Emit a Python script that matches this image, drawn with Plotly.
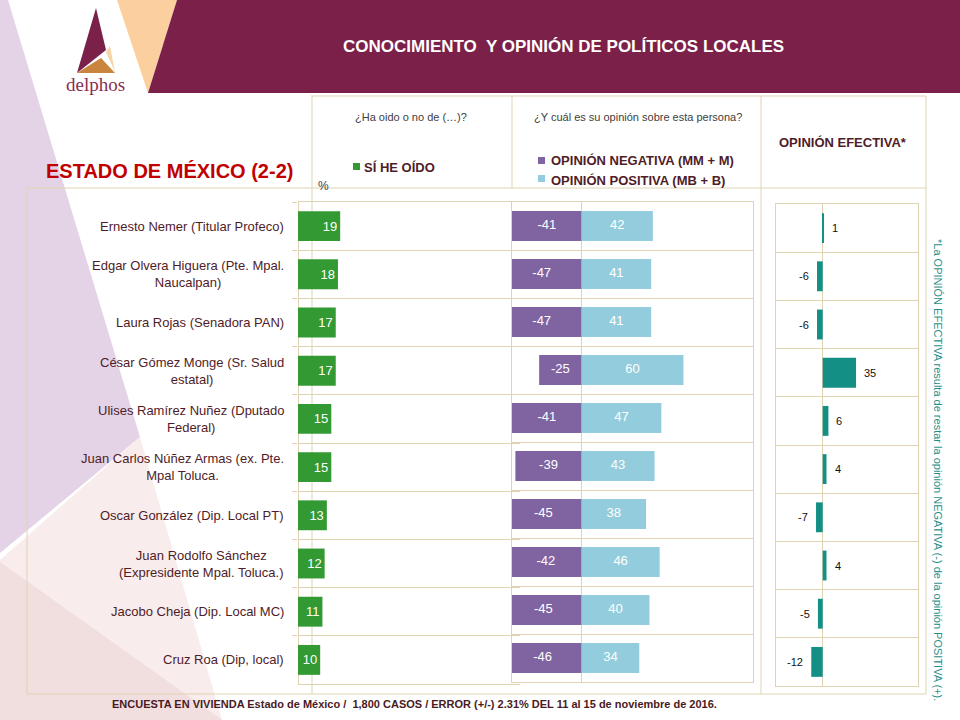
import plotly.graph_objects as go

# ---------------- data ----------------
categories = [
    "Ernesto Nemer (Titular Profeco)",
    "Edgar Olvera Higuera (Pte. Mpal.<br>Naucalpan)",
    "Laura Rojas (Senadora PAN)",
    "César Gómez Monge (Sr. Salud<br>estatal)",
    "Ulises Ramírez Nuñez (Dputado<br>Federal)",
    "Juan Carlos Núñez Armas (ex. Pte.<br>Mpal Toluca.",
    "Oscar González (Dip. Local PT)",
    "Juan Rodolfo Sánchez<br>(Expresidente Mpal. Toluca.)",
    "Jacobo Cheja (Dip. Local MC)",
    "Cruz Roa (Dip, local)",
]
si_he_oido = [19, 18, 17, 17, 15, 15, 13, 12, 11, 10]
opinion_negativa = [-41, -47, -47, -25, -41, -39, -45, -42, -45, -46]
opinion_positiva = [42, 41, 41, 60, 47, 43, 38, 46, 40, 34]
opinion_efectiva = [1, -6, -6, 35, 6, 4, -7, 4, -5, -12]

# ---------------- style ----------------
W, H = 960, 720
NARROW = "Liberation Sans Narrow, Arial Narrow, Liberation Sans, sans-serif"
MAROON = "#7b2048"
PEACH = "#fcd09e"
LAVENDER = "#e4d3e7"
TAN = "#e0d3b2"
TXT = "#4f1c28"
GREEN = "#339933"
PURPLE = "#8064a2"
LBLUE = "#93cddd"
TEAL = "#138f86"


def px(x):
    return x / W


def py(y):
    return 1 - y / H


fig = go.Figure()

# green bars
fig.add_trace(go.Bar(
    x=si_he_oido, y=categories, orientation="h", xaxis="x", yaxis="y",
    marker=dict(color=GREEN, line=dict(width=0)), width=0.62,
    text=[str(v) for v in si_he_oido], textposition="inside",
    insidetextanchor="end", textangle=0,
    textfont=dict(family=NARROW, size=13, color="white"),
    showlegend=False, hoverinfo="skip"))

# opinion bars
fig.add_trace(go.Bar(
    x=opinion_negativa, y=categories, orientation="h", xaxis="x2", yaxis="y2",
    marker=dict(color=PURPLE, line=dict(width=0)), width=0.62,
    showlegend=False, hoverinfo="skip"))
fig.add_trace(go.Bar(
    x=opinion_positiva, y=categories, orientation="h", xaxis="x2", yaxis="y2",
    marker=dict(color=LBLUE, line=dict(width=0)), width=0.62,
    showlegend=False, hoverinfo="skip"))
fig.add_trace(go.Scatter(
    x=[v / 2 for v in opinion_negativa] + [v / 2 for v in opinion_positiva],
    y=categories + categories, mode="text", xaxis="x2", yaxis="y2",
    text=[str(v) for v in opinion_negativa] + [str(v) for v in opinion_positiva],
    textfont=dict(family=NARROW, size=13, color="white"),
    showlegend=False, hoverinfo="skip", cliponaxis=False))

# opinion efectiva
fig.add_trace(go.Bar(
    x=opinion_efectiva, y=categories, orientation="h", xaxis="x3", yaxis="y3",
    marker=dict(color=TEAL, line=dict(width=0)), width=0.62,
    showlegend=False, hoverinfo="skip"))

annotations = []
for c, v in zip(categories, opinion_efectiva):
    annotations.append(dict(
        x=v, y=c, xref="x3", yref="y3", text=str(v), showarrow=False,
        xanchor="left" if v >= 0 else "right", yanchor="middle",
        xshift=6 if v >= 0 else -6,
        font=dict(family=NARROW, size=11, color="#111111")))

# left category labels
for c in categories:
    annotations.append(dict(
        x=px(286), y=c, xref="paper", yref="y", text=c, showarrow=False,
        xanchor="right", yanchor="middle", align="center",
        font=dict(family=NARROW, size=13, color=TXT)))

# texts
annotations += [
    dict(x=px(563), y=py(47), text="<b>CONOCIMIENTO  Y OPINIÓN DE POLÍTICOS LOCALES</b>",
         font=dict(family="Liberation Sans, Arial, sans-serif", size=17, color="white")),
    dict(x=px(95), y=py(84), text="delphos",
         font=dict(family="Liberation Serif, serif", size=19, color="#8a2c52")),
    dict(x=px(169), y=py(171), text="<b>ESTADO DE MÉXICO (2-2)</b>",
         font=dict(family=NARROW, size=20, color="#c00000")),
    dict(x=px(411), y=py(117), text="¿Ha oido o no de (…)?",
         font=dict(family=NARROW, size=11, color="#404040")),
    dict(x=px(638), y=py(117), text="¿Y cuál es su opinión sobre esta persona?",
         font=dict(family=NARROW, size=11, color="#404040")),
    dict(x=px(843), y=py(143), text="<b>OPINIÓN EFECTIVA*</b>",
         font=dict(family=NARROW, size=13, color=TXT)),
    dict(x=px(362), y=py(167), xanchor="left", text="<b>SÍ HE OÍDO</b>",
         font=dict(family=NARROW, size=13, color=TXT)),
    dict(x=px(549), y=py(160), xanchor="left", text="<b>OPINIÓN NEGATIVA (MM + M)</b>",
         font=dict(family=NARROW, size=13, color=TXT)),
    dict(x=px(549), y=py(180), xanchor="left", text="<b>OPINIÓN POSITIVA (MB + B)</b>",
         font=dict(family=NARROW, size=13, color=TXT)),
    dict(x=px(323), y=py(186), text="%",
         font=dict(family=NARROW, size=12, color="#404040")),
    dict(x=px(938), y=py(470), textangle=90,
         text="*La OPINIÓN EFECTIVA resulta de restar la opinión NEGATIVA (-) de la opinión POSITIVA (+).",
         font=dict(family=NARROW, size=11, color="#1f8f8a")),
    dict(x=px(414), y=py(704),
         text="<b>ENCUESTA EN VIVIENDA Estado de México /  1,800 CASOS / ERROR (+/-) 2.31% DEL 11 al 15 de noviembre de 2016.</b>",
         font=dict(family=NARROW, size=11, color="#4a1a22")),
]
for a in annotations:
    a.setdefault("xref", "paper")
    a.setdefault("yref", "paper")
    a.setdefault("showarrow", False)
    a.setdefault("xanchor", "center")
    a.setdefault("yanchor", "middle")


def poly(points, color, layer="below"):
    path = "M " + " L ".join(f"{px(x)},{py(y)}" for x, y in points) + " Z"
    return dict(type="path", path=path, xref="paper", yref="paper",
                fillcolor=color, line=dict(width=0), layer=layer)


def line(x0, y0, x1, y1, color=TAN, width=1):
    return dict(type="line", xref="paper", yref="paper",
                x0=px(x0), y0=py(y0), x1=px(x1), y1=py(y1),
                line=dict(color=color, width=width), layer="below")


def rect(x0, y0, x1, y1, color):
    return dict(type="rect", xref="paper", yref="paper",
                x0=px(x0), y0=py(y0), x1=px(x1), y1=py(y1),
                fillcolor=color, line=dict(width=0), layer="above")


shapes = [
    # background decorations
    poly([(0, 0), (8, 0), (140, 437), (0, 553)], LAVENDER),
    poly([(140, 437), (222, 720), (0, 720), (0, 560)], "#f8ecec"),
    poly([(0, 562), (222, 720), (0, 720)], "#f1dede"),
    # header band
    poly([(117, 0), (177, 0), (148, 93)], PEACH),
    poly([(177, 0), (960, 0), (960, 93), (148, 93)], MAROON),
    # logo
    poly([(96, 8), (106, 50), (77, 73)], MAROON),
    poly([(106, 52), (110, 46), (115, 72)], "#f6d5a8"),
    poly([(77, 73), (115, 73), (101, 58)], "#c9843e"),
    # frame
    line(311, 96, 926, 96),
    line(27, 188, 926, 188),
    line(27, 188, 27, 694),
    line(27, 694, 926, 694),
    line(926, 96, 926, 694),
    line(312, 96, 312, 694),
    line(512, 96, 512, 188),
    line(761, 96, 761, 694),
    # legend squares
    rect(353, 163, 360, 170, GREEN),
    rect(538, 157, 545, 164, PURPLE),
    rect(538, 175, 545, 182, LBLUE),
]

yax = dict(type="category", categoryarray=categories, categoryorder="array",
           autorange="reversed", tickson="boundaries", showticklabels=False,
           showgrid=True, gridcolor=TAN, gridwidth=1, zeroline=False, fixedrange=True)

fig.update_layout(
    width=W, height=H, margin=dict(l=0, r=0, t=0, b=0),
    paper_bgcolor="white", plot_bgcolor="rgba(0,0,0,0)",
    barmode="relative", bargap=0.38,
    showlegend=False,
    xaxis=dict(domain=[px(298), px(520)], range=[0, 100], showticklabels=False,
               showgrid=False, zeroline=True, zerolinecolor=TAN, zerolinewidth=1,
               showline=True, mirror=True, linecolor=TAN, linewidth=1, anchor="y"),
    yaxis=dict(yax, domain=[py(684), py(202)], anchor="x",
               ticks="outside", ticklen=5, tickcolor=TAN),
    xaxis2=dict(domain=[px(512), px(753)], range=[-41, 101], showticklabels=False,
                showgrid=False, zeroline=True, zerolinecolor=TAN, zerolinewidth=1,
                showline=True, mirror=True, linecolor=TAN, linewidth=1, anchor="y2"),
    yaxis2=dict(yax, domain=[py(682), py(202)], anchor="x2",
                showline=True, mirror=True, linecolor=TAN, linewidth=1, ticks=""),
    xaxis3=dict(domain=[px(776), px(918)], range=[-49, 100], showticklabels=False,
                showgrid=False, zeroline=True, zerolinecolor=TAN, zerolinewidth=1,
                showline=True, mirror=True, linecolor=TAN, linewidth=1, anchor="y3"),
    yaxis3=dict(yax, domain=[py(686), py(204)], anchor="x3",
                showline=True, mirror=True, linecolor=TAN, linewidth=1, ticks=""),
    annotations=annotations,
    shapes=shapes,
)

fig.write_html("out.html")
